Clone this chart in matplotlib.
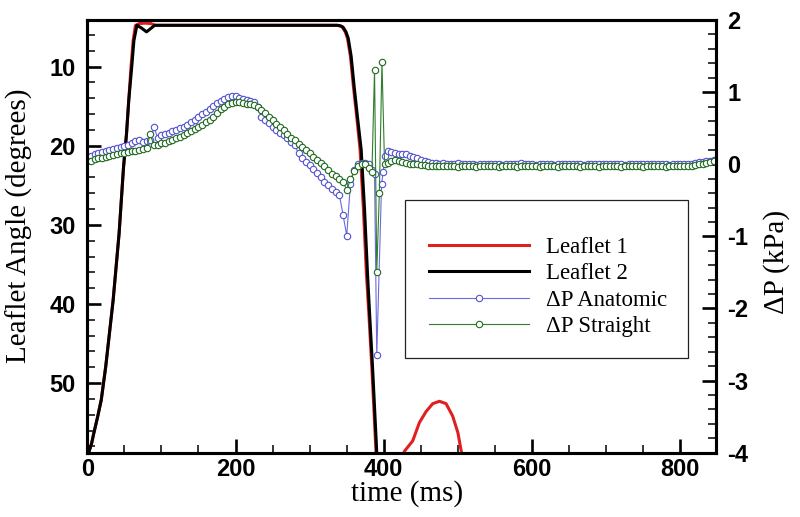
import numpy as np
import matplotlib
matplotlib.use("Agg")
import matplotlib.pyplot as plt
from matplotlib.ticker import MultipleLocator
from matplotlib.patches import Rectangle

plt.rcParams['font.family'] = ['Liberation Sans', 'DejaVu Sans']
plt.rcParams['font.weight'] = 'bold'
plt.rcParams['axes.unicode_minus'] = False

# ---- leaflet angles (degrees) ----
t_leaf2 = [0, 2, 6, 9, 14, 19, 25, 30, 35, 39, 43, 46, 49, 53, 56, 60, 63, 67, 73, 80, 86,
           91, 150, 250, 338, 342, 345, 349, 352, 356, 360, 365, 369.5, 374, 378, 381, 385,
           388, 390.5, 393, 848]
leaf2 = [60.0, 58.8, 57.6, 56.3, 54.3, 52.1, 47.9, 43.7, 39.5, 35.3, 31.1, 26.9, 22.7,
         18.5, 14.3, 10.1, 6.7, 4.77, 5.1, 5.6, 5.15, 4.77, 4.77, 4.77, 4.77, 4.85, 5.0,
         5.6, 6.4, 8.7, 12.5, 16.8, 20.5, 28.0, 36.1, 41.5, 48.3, 54.0, 58.8, 61.0, 61.0]

t_leaf1 = [0, 2, 6, 9, 14, 19, 25, 30, 35, 39, 43, 46, 49, 53, 56, 59, 62, 65, 70, 78, 86,
           92, 150, 250, 337, 341, 344, 348, 351, 355, 359, 364, 368, 372.5, 376.5, 380,
           384, 387, 389.5, 395, 410, 420, 428, 439, 448, 457, 466, 475, 484, 493, 500,
           504, 510, 848]
leaf1 = [60.0, 58.8, 57.6, 56.3, 54.3, 52.1, 47.9, 43.7, 39.5, 35.3, 31.1, 26.9, 22.7,
         18.5, 14.3, 10.1, 6.7, 4.8, 4.55, 4.5, 4.55, 4.77, 4.77, 4.77, 4.77, 4.85, 5.0,
         5.6, 6.4, 8.7, 12.5, 16.8, 20.5, 28.0, 36.1, 41.5, 48.3, 54.0, 58.8, 62.0, 62.0,
         60.2, 58.6, 57.3, 55.0, 53.6, 52.6, 52.3, 52.6, 54.2, 56.3, 58.4, 61.0, 62.0]

# ---- pressure drop (kPa) ----
dp_anat = [0.11, 0.12, 0.14, 0.15, 0.17, 0.18, 0.20, 0.21, 0.23, 0.24,
           0.25, 0.27, 0.29, 0.32, 0.33, 0.31, 0.32, 0.34, 0.51, 0.37,
           0.40, 0.42, 0.44, 0.46, 0.48, 0.50, 0.52, 0.55, 0.58, 0.62,
           0.66, 0.69, 0.73, 0.77, 0.81, 0.85, 0.88, 0.91, 0.93, 0.94,
           0.94, 0.92, 0.90, 0.89, 0.88, 0.86, 0.80, 0.66, 0.62, 0.57,
           0.52, 0.47, 0.44, 0.40, 0.36, 0.31, 0.26, 0.15, 0.08, 0.03,
           -0.01, -0.07, -0.12, -0.18, -0.24, -0.29, -0.34, -0.38, -0.42, -0.70,
           -0.99, -0.27, -0.08, 0.01, 0.02, 0.02, 0.00,
           # closing spike
           -0.08, -0.13, -2.64, -0.28, -0.11, 0.12,
           0.18, 0.17, 0.15, 0.14, 0.14, 0.14, 0.12, 0.10, 0.08, 0.06,
           0.05, 0.03, 0.02, 0.02, 0.01, 0.02, 0.01, 0.00, 0.01, 0.02,
           0.01, 0.00, 0.01, 0.00, -0.01, 0.00, 0.01, 0.00, 0.00, 0.01,
           0.00, -0.01, 0.00, 0.01, 0.00, 0.00, 0.02, 0.01, 0.00, 0.00,
           -0.01, 0.00, 0.01, 0.01, 0.00, -0.01, 0.00, 0.01, 0.00, 0.00,
           0.01, 0.00, 0.00, -0.01, 0.00, 0.01, 0.01, 0.00, 0.00, 0.01,
           0.00, 0.00, 0.01, 0.00, -0.01, 0.00, 0.00, 0.01, 0.00, 0.00,
           0.01, 0.00, 0.00, 0.00, 0.01, 0.00, -0.01, 0.00, 0.00, 0.01,
           0.00, 0.01, 0.01, 0.02, 0.03, 0.03, 0.04, 0.05, 0.06]
t_anat = np.concatenate([np.arange(0, 381, 5), [384, 387.5, 390.5, 397, 399, 402],
                         np.arange(405, 846, 5)])

dp_str = [0.04, 0.05, 0.07, 0.08, 0.09, 0.10, 0.12, 0.13, 0.14, 0.15,
          0.16, 0.17, 0.18, 0.19, 0.20, 0.21, 0.22, 0.42, 0.26, 0.27,
          0.29, 0.30, 0.32, 0.34, 0.36, 0.38, 0.41, 0.43, 0.46, 0.49,
          0.52, 0.55, 0.58, 0.62, 0.66, 0.71, 0.76, 0.80, 0.83, 0.85,
          0.86, 0.86, 0.85, 0.84, 0.83, 0.82, 0.79, 0.75, 0.71, 0.66,
          0.61, 0.56, 0.51, 0.47, 0.42, 0.37, 0.33, 0.28, 0.24, 0.20,
          0.15, 0.10, 0.06, 0.02, -0.03, -0.08, -0.13, -0.17, -0.21, -0.24,
          -0.36, -0.21, -0.10, -0.03, 0.01, 0.00, -0.05,
          # closing spike
          -0.11, 1.31, -1.49, -0.40, 1.42, 0.00,
          0.02, 0.04, 0.06, 0.05, 0.03, 0.02, 0.01, 0.00, 0.00, -0.01,
          -0.01, -0.02, -0.02, -0.03, -0.02, -0.03, -0.03, -0.02, -0.03, -0.04,
          -0.03, -0.03, -0.02, -0.03, -0.04, -0.03, -0.03, -0.02, -0.03, -0.03,
          -0.04, -0.03, -0.03, -0.02, -0.03, -0.04, -0.03, -0.03, -0.02, -0.03,
          -0.03, -0.04, -0.03, -0.02, -0.03, -0.03, -0.04, -0.03, -0.03, -0.02,
          -0.03, -0.03, -0.04, -0.03, -0.03, -0.02, -0.03, -0.04, -0.03, -0.03,
          -0.02, -0.03, -0.03, -0.04, -0.03, -0.03, -0.02, -0.03, -0.03, -0.04,
          -0.03, -0.03, -0.02, -0.03, -0.03, -0.04, -0.03, -0.02, -0.03, -0.03,
          -0.03, -0.02, -0.02, -0.01, 0.00, 0.01, 0.02, 0.03, 0.04]
t_str = np.concatenate([np.arange(0, 381, 5), [384, 387.5, 390.5, 394, 397.5, 401],
                        np.arange(405, 846, 5)])

serif = {'family': 'Liberation Serif', 'weight': 'normal'}

fig = plt.figure(figsize=(8, 5.17), dpi=100)
ax = fig.add_axes([0.109, 0.1244, 0.786, 0.8369])
ax2 = ax.twinx()

l1, = ax.plot(t_leaf1, leaf1, color='#e02020', lw=2.2, label='Leaflet 1')
l2, = ax.plot(t_leaf2, leaf2, color='black', lw=2.2, label='Leaflet 2')
p1, = ax2.plot(t_anat, dp_anat, color='#6b6bdc', lw=0.8, marker='o', ms=4.6,
               mfc='white', mec='#5252d0', mew=0.8, label='ΔP Anatomic')
p2, = ax2.plot(t_str, dp_str, color='#2f7d2f', lw=0.8, marker='o', ms=4.6,
               mfc='white', mec='#1f6a1f', mew=0.8, label='ΔP Straight')

ax.set_xlim(0, 848)
ax.set_ylim(58.8, 4.1)
ax2.set_ylim(-4, 2)

ax.xaxis.set_major_locator(MultipleLocator(200))
ax.xaxis.set_minor_locator(MultipleLocator(50))
ax.yaxis.set_major_locator(MultipleLocator(10))
ax.yaxis.set_minor_locator(MultipleLocator(2))
ax2.yaxis.set_major_locator(MultipleLocator(1))
ax2.yaxis.set_minor_locator(MultipleLocator(0.2))

for a in (ax, ax2):
    for s in a.spines.values():
        s.set_linewidth(2.2)
ax.tick_params(which='both', direction='in', top=False, right=False, labelsize=17)
ax.tick_params(which='major', length=10, width=1.9)
ax.tick_params(which='minor', length=5.5, width=1.1)
ax.tick_params(axis='x', pad=4)
ax.tick_params(axis='y', pad=8.5)
ax2.tick_params(which='both', direction='in', labelsize=17, pad=8)
ax2.tick_params(which='major', length=10, width=1.9)
ax2.tick_params(which='minor', length=5.5, width=1.1)

ax.set_xlabel('time (ms)', fontdict=serif, fontsize=21)
ax.set_ylabel('Leaflet Angle (degrees)', fontdict=serif, fontsize=21)
ax2.set_ylabel('ΔP (kPa)', fontdict=serif, fontsize=21)
ax.xaxis.set_label_coords(0.508, -0.063)
ax.yaxis.set_label_coords(-0.086, 0.524)
ax2.yaxis.set_label_coords(1.075, 0.44)

# legend box
fig.patches.append(Rectangle((0.506, 0.3075), 0.354, 0.3056, transform=fig.transFigure,
                             fill=False, edgecolor='#222222', lw=0.9))
leg = fig.legend(handles=[l1, l2, p1, p2], loc='center left',
                 bbox_to_anchor=(429 / 800, 1 - 287 / 517), frameon=False,
                 prop={'family': 'Liberation Serif', 'weight': 'normal', 'size': 16.5},
                 handlelength=4.36, handletextpad=0.76, labelspacing=0.22,
                 borderpad=0, borderaxespad=0, numpoints=1)

fig.savefig('out.png', dpi=100)
